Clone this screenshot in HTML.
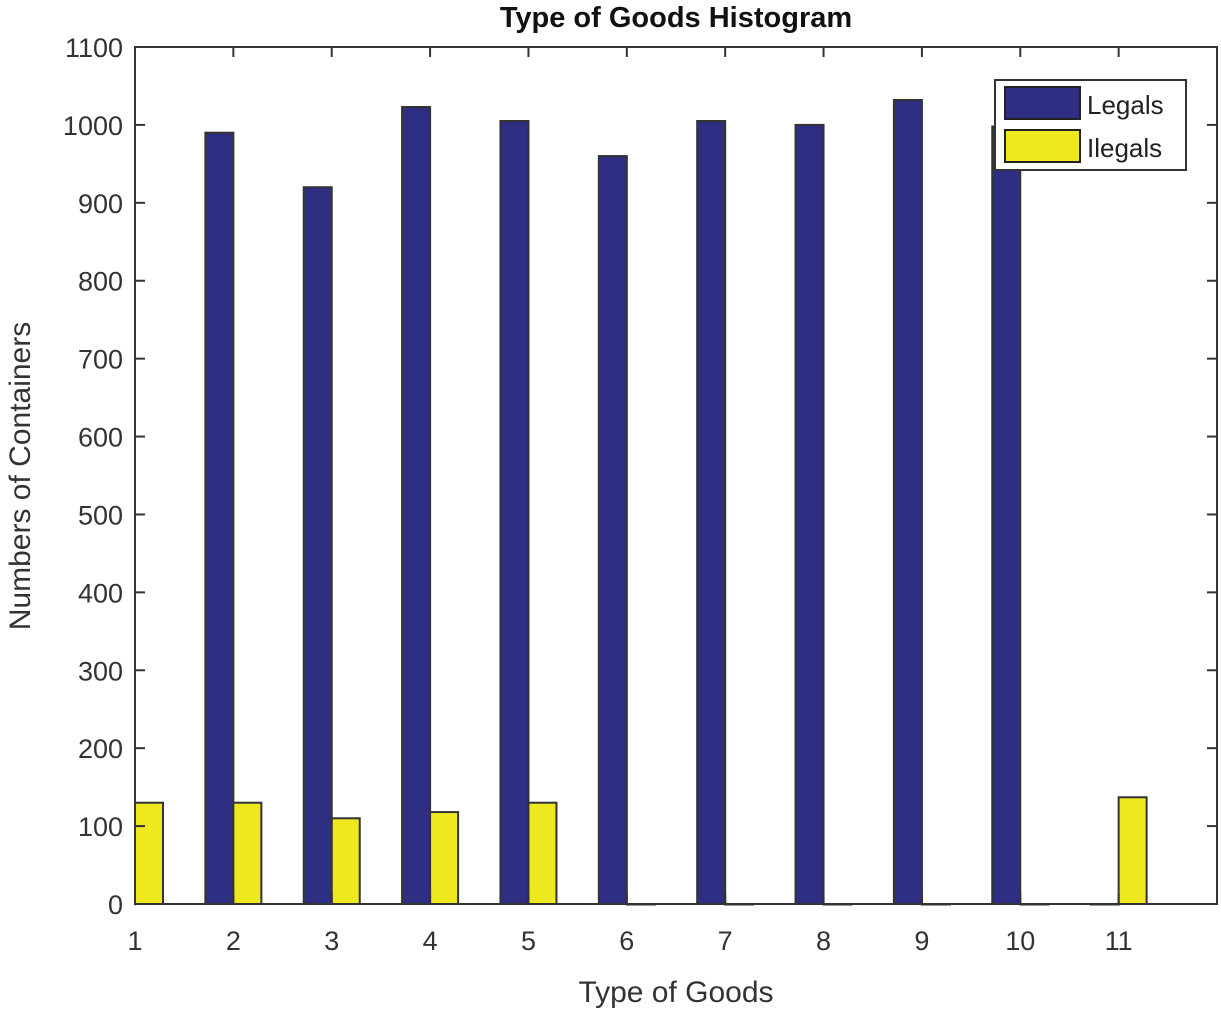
<!DOCTYPE html>
<html><head><meta charset="utf-8"><style>
body{margin:0;background:#fff;}
svg{display:block;font-family:"Liberation Sans",Arial,sans-serif;}
</style></head><body>
<svg id="chart" width="1221" height="1013">
<text x="676" y="27" font-size="29" font-weight="bold" text-anchor="middle" fill="#111">Type of Goods Histogram</text>
<text x="676" y="1002" font-size="30" text-anchor="middle" fill="#333">Type of Goods</text>
<text transform="translate(30,476) rotate(-90)" font-size="30" text-anchor="middle" fill="#333">Numbers of Containers</text>
<g id="bars"></g>
<g id="axes"></g>
<g>
<rect x="995" y="80" width="191" height="90" fill="#fff" stroke="#333" stroke-width="2"/>
<rect x="1005" y="87" width="75" height="32" fill="#2e2e82" stroke="#222" stroke-width="2"/>
<text x="1087" y="114" font-size="26" fill="#222">Legals</text>
<rect x="1005" y="130" width="75" height="32" fill="#f0e81e" stroke="#222" stroke-width="2"/>
<text x="1087" y="157" font-size="26" fill="#222">Ilegals</text>
</g>
</svg>
<script>
const categories=[1,2,3,4,5,6,7,8,9,10,11];
const legals=[0,990,920,1023,1005,960,1005,1000,1032,998,0];
const ilegals=[130,130,110,118,130,0,0,0,0,0,137];
const yTicks=[0,100,200,300,400,500,600,700,800,900,1000,1100];
const NS="http://www.w3.org/2000/svg";
const L=135,R=1217,T=47,B=904;
const xMin=1,xMax=12,yMax=1100;
const xs=v=>L+(v-xMin)/(xMax-xMin)*(R-L);
const ys=v=>B-v/yMax*(B-T);
const bw=28;
const bars=document.getElementById('bars');
const axes=document.getElementById('axes');
function mk(tag,attrs,parent){const e=document.createElementNS(NS,tag);for(const k in attrs)e.setAttribute(k,attrs[k]);parent.appendChild(e);return e;}
const clip=mk('clipPath',{id:'pc'},bars);mk('rect',{x:L,y:T-2,width:R-L,height:B-T+4},clip);
bars.setAttribute('clip-path','url(#pc)');
categories.forEach((c,i)=>{
  const x=xs(c);
  const a=mk('rect',{x:x-bw,y:ys(legals[i]),width:bw,height:Math.max(0.5,ys(0)-ys(legals[i])),fill:'#2e2e82',stroke:'#333','stroke-width':2},bars);
  
  
  const b=mk('rect',{x:x,y:ys(ilegals[i]),width:bw,height:Math.max(0.5,ys(0)-ys(ilegals[i])),fill:'#f0e81e',stroke:'#333','stroke-width':2},bars);
  
  
});
const frame=mk('rect',{x:L,y:T,width:R-L,height:B-T,fill:'none',stroke:'#333','stroke-width':2},axes);


yTicks.forEach(v=>{
  const y=ys(v);
  mk('line',{x1:L,x2:L+10,y1:y,y2:y,stroke:'#333','stroke-width':2},axes);
  mk('line',{x1:R,x2:R-10,y1:y,y2:y,stroke:'#333','stroke-width':2},axes);
  const t=mk('text',{x:L-12,y:y+10,'font-size':27,'text-anchor':'end',fill:'#333'},axes);
  t.textContent=v;
  
  
});
categories.forEach(c=>{
  const x=xs(c);
  mk('line',{x1:x,x2:x,y1:B,y2:B-10,stroke:'#333','stroke-width':2},axes);
  mk('line',{x1:x,x2:x,y1:T,y2:T+10,stroke:'#333','stroke-width':2},axes);
  const t=mk('text',{x:x,y:B+46,'font-size':27,'text-anchor':'middle',fill:'#333'},axes);
  t.textContent=c;
  
  
});
</script>
</body></html>
